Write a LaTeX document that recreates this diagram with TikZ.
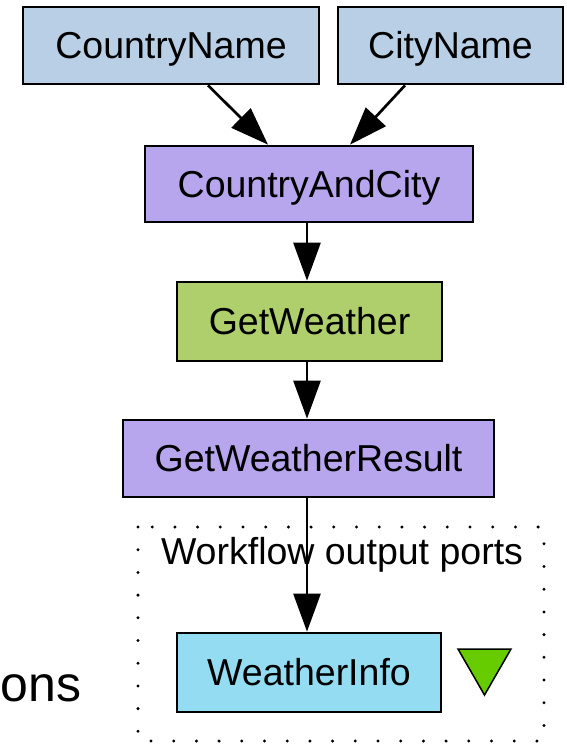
\documentclass[tikz,border=0pt]{standalone}
\usepackage{fontspec}
\setmainfont{Liberation Sans}
\usetikzlibrary{arrows.meta,shapes.geometric}
\definecolor{inblue}{RGB}{185,207,230}
\definecolor{procpurple}{RGB}{183,165,237}
\definecolor{procgreen}{RGB}{174,207,107}
\definecolor{outcyan}{RGB}{148,220,242}
\definecolor{trigreen}{RGB}{102,204,0}
\tikzset{
  box/.style={draw=black, line width=2.7pt, rectangle, inner sep=0pt,
    text height=26pt, text depth=0pt, minimum height=77pt,
    font=\fontsize{37.5}{44}\selectfont},
  conn/.style={line width=2.7pt, -{Triangle[length=38pt,width=27pt]}},
  lbl/.style={font=\fontsize{37.5}{44}\selectfont, inner sep=0pt},
}
\begin{document}
\begin{tikzpicture}[x=1pt,y=1pt]
\useasboundingbox (0,0) rectangle (566,-744);
% dotted cluster
\draw[line width=3.3pt, line cap=round, dash pattern=on 0pt off 22.7pt] (138,-527) rectangle (544,-741);
\node[lbl, anchor=base] (clab) at (342,-564) {Workflow output ports};
% nodes
\node[box, fill=inblue, minimum width=296pt] (cn) at (171,-45.5) {CountryName};
\node[box, fill=inblue, minimum width=225pt] (city) at (450.5,-45.5) {CityName};
\node[box, fill=procpurple, minimum width=328pt, minimum height=76pt] (cac) at (309,-184) {CountryAndCity};
\node[box, fill=procgreen, minimum width=265pt, minimum height=79pt] (gw) at (309.5,-321.5) {GetWeather};
\node[box, fill=procpurple, minimum width=371pt] (gwr) at (308.5,-458.5) {GetWeatherResult};
\node[box, fill=outcyan, minimum width=264pt, minimum height=79pt] (wi) at (309,-672.5) {WeatherInfo};
% output port marker
\coordinate (t1) at (458,-649);
\coordinate (t2) at (511,-649);
\coordinate (t3) at (484.5,-695);
\draw[fill=trigreen, line width=1.5pt, line join=miter] (t1) -- (t2) -- (t3) -- cycle;
% partial label at left
\node[inner sep=0pt, anchor=base west, font=\fontsize{50}{58}\selectfont] (ons) at (0.5,-701) {ons};
% connectors
\draw[conn] ([xshift=37pt]cn.south) -- ([xshift=-41pt]cac.north);
\draw[conn] ([xshift=-45.5pt]city.south) -- ([xshift=41pt]cac.north);
\draw[conn] ([xshift=-2pt]cac.south) -- ([xshift=-2.5pt]gw.north);
\draw[conn] ([xshift=-2.5pt]gw.south) -- ([xshift=-1.5pt]gwr.north);
\draw[conn] ([xshift=-1.5pt]gwr.south) -- ([xshift=-2pt]wi.north);
\end{tikzpicture}
\end{document}
